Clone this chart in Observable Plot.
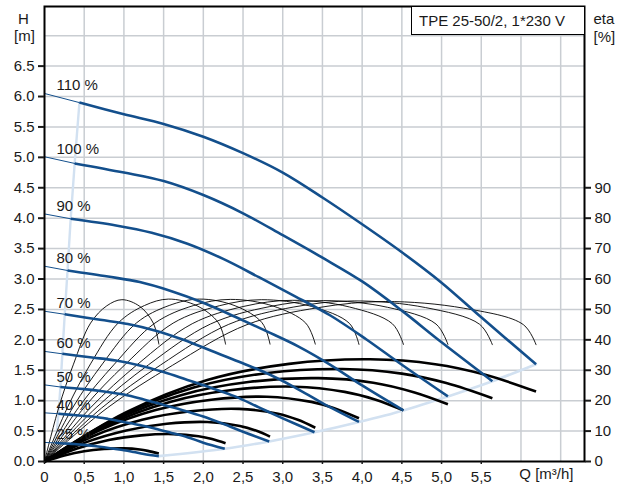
<!DOCTYPE html>
<html>
<head>
<meta charset="utf-8">
<script src="https://cdn.jsdelivr.net/npm/d3@7"></script>
<script src="https://cdn.jsdelivr.net/npm/@observablehq/plot@0.6"></script>
<style>
  body { margin: 0; background: #fff; font-family: "Liberation Sans", Arial, sans-serif; }
  #chart { position: relative; width: 624px; height: 489px; }
  #typebox {
    position: absolute; left: 411px; top: 6px; width: 173px; height: 29px;
    box-sizing: border-box; border: 1px solid #000; border-right: none; background: #fff;
    font-size: 15px; line-height: 27px; padding-left: 7px; color: #1a1a1a; white-space: nowrap;
  }
</style>
</head>
<body>
<div id="chart"><div id="typebox">TPE 25-50/2, 1*230 V</div></div>
<script>
// Speed steps of the pump, highest first
const speedLabels = ["110 %", "100 %", "90 %", "80 %", "70 %", "60 %", "50 %", "40 %", "25 %"];

// QH curves [Q m³/h, H m]; 2nd point = start of the operating range (thin line before it)
const head110 = [[0,6.05],[0.44,5.90],[1.0,5.71],[1.5,5.55],[2.0,5.34],[2.5,5.07],[3.0,4.75],[3.5,4.34],[4.0,3.90],[4.5,3.44],[5.0,2.94],[5.5,2.37],[6.19,1.60]];
const head100 = [[0,5.01],[0.38,4.90],[1.0,4.75],[1.5,4.61],[2.0,4.38],[2.5,4.08],[3.0,3.72],[3.5,3.35],[4.0,2.96],[4.5,2.48],[5.0,1.96],[5.64,1.32]];
const head90  = [[0,4.07],[0.33,3.99],[0.9,3.88],[1.35,3.76],[1.8,3.58],[2.25,3.33],[2.7,3.03],[3.15,2.72],[3.6,2.40],[4.05,2.01],[4.5,1.59],[5.08,1.07]];
const head80  = [[0,3.21],[0.29,3.14],[0.8,3.04],[1.2,2.95],[1.6,2.80],[2.0,2.61],[2.4,2.38],[2.8,2.14],[3.2,1.89],[3.6,1.59],[4.0,1.25],[4.52,0.84]];
const head70  = [[0,2.47],[0.255,2.42],[0.7,2.33],[1.05,2.26],[1.4,2.15],[1.75,2.00],[2.1,1.82],[2.45,1.64],[2.8,1.45],[3.15,1.22],[3.5,0.96],[3.96,0.65]];
const head60  = [[0,1.81],[0.225,1.77],[0.6,1.71],[0.9,1.66],[1.2,1.58],[1.5,1.47],[1.8,1.34],[2.1,1.21],[2.4,1.07],[2.7,0.89],[3.0,0.71],[3.40,0.48]];
const head50  = [[0,1.26],[0.2,1.225],[0.5,1.19],[0.75,1.15],[1.0,1.10],[1.25,1.02],[1.5,0.93],[1.75,0.84],[2.0,0.74],[2.25,0.62],[2.5,0.49],[2.83,0.33]];
const head40  = [[0,0.80],[0.175,0.785],[0.4,0.76],[0.6,0.74],[0.8,0.70],[1.0,0.65],[1.2,0.60],[1.4,0.54],[1.6,0.47],[1.8,0.40],[2.0,0.31],[2.27,0.21]];
const head25  = [[0,0.313],[0.14,0.306],[0.25,0.297],[0.375,0.288],[0.5,0.274],[0.625,0.255],[0.75,0.233],[0.875,0.209],[1.0,0.185],[1.125,0.155],[1.25,0.123],[1.44,0.088]];

// Hydraulic efficiency curves [Q m³/h, eta %] (thin)
const eff110 = [[0,0],[0.79,17.6],[1.61,31.6],[2.55,45.0],[3.45,50.6],[4.29,52.6],[5.28,50.4],[6.03,45.0],[6.19,38.4]];
const eff100 = [[0,0],[0.72,17.6],[1.46,31.7],[2.32,45.1],[3.14,50.8],[3.90,52.8],[4.80,50.6],[5.48,45.1],[5.64,38.4]];
const eff90  = [[0,0],[0.65,17.7],[1.31,31.8],[2.09,45.2],[2.83,50.9],[3.51,52.9],[4.32,50.7],[4.93,45.2],[5.08,38.5]];
const eff80  = [[0,0],[0.58,17.7],[1.17,31.9],[1.86,45.3],[2.51,51.0],[3.12,53.0],[3.84,50.8],[4.38,45.3],[4.52,38.5]];
const eff70  = [[0,0],[0.50,17.8],[1.02,32.0],[1.62,45.5],[2.20,51.2],[2.73,53.2],[3.36,51.0],[3.84,45.4],[3.96,38.5]];
const eff60  = [[0,0],[0.43,17.8],[0.88,32.0],[1.39,45.5],[1.88,51.3],[2.34,53.3],[2.88,51.1],[3.29,45.5],[3.41,38.6]];
const eff50  = [[0,0],[0.36,17.9],[0.73,32.1],[1.16,45.6],[1.57,51.3],[1.95,53.4],[2.40,51.2],[2.74,45.6],[2.84,38.6]];
const eff40  = [[0,0],[0.29,17.8],[0.58,32.1],[0.93,45.6],[1.26,51.3],[1.56,53.4],[1.92,51.2],[2.19,45.6],[2.28,38.6]];
const eff25  = [[0,0],[0.18,17.8],[0.365,32.0],[0.58,45.5],[0.785,51.2],[0.975,53.2],[1.20,51.0],[1.37,45.5],[1.44,38.6]];

// Total efficiency curves [Q m³/h, eta %] (thick)
const tot110 = [[0,0],[1.03,16.2],[2.05,26.8],[3.08,32.1],[4.1,33.6],[4.92,32.0],[5.54,28.6],[6.19,23.0]];
const tot100 = [[0,0],[0.94,14.7],[1.88,24.3],[2.81,29.1],[3.75,30.4],[4.5,28.9],[5.06,25.8],[5.64,20.8]];
const tot90  = [[0,0],[0.86,13.3],[1.73,21.9],[2.59,26.2],[3.45,27.4],[4.14,25.9],[4.66,22.7],[5.08,18.8]];
const tot80  = [[0,0],[0.79,11.9],[1.58,19.6],[2.36,23.5],[3.15,24.6],[3.78,22.9],[4.16,20.4],[4.52,16.8]];
const tot70  = [[0,0],[0.70,10.3],[1.40,16.9],[2.10,20.3],[2.80,21.3],[3.36,19.6],[3.64,17.6],[3.96,14.2]];
const tot60  = [[0,0],[0.61,8.3],[1.23,13.7],[1.84,16.5],[2.45,17.3],[2.94,15.7],[3.19,13.7],[3.41,11.1]];
const tot50  = [[0,0],[0.51,6.2],[1.03,10.2],[1.54,12.4],[2.05,13.0],[2.46,11.7],[2.67,10.1],[2.84,8.2]];
const tot40  = [[0,0],[0.41,4.3],[0.81,7.1],[1.22,8.6],[1.62,9.0],[1.94,8.3],[2.11,7.4],[2.28,6.0]];
const tot25  = [[0,0],[0.25,2.0],[0.5,3.4],[0.75,4.1],[1.0,4.3],[1.2,3.95],[1.3,3.5],[1.44,2.6]];

// Axis ticks
const qTicks = [0, 0.5, 1.0, 1.5, 2.0, 2.5, 3.0, 3.5, 4.0, 4.5, 5.0, 5.5];
const qGrid = [0.5, 1.0, 1.5, 2.0, 2.5, 3.0, 3.5, 4.0, 4.5, 5.0, 5.5, 6.0, 6.5];
const hTicks = [0, 0.5, 1.0, 1.5, 2.0, 2.5, 3.0, 3.5, 4.0, 4.5, 5.0, 5.5, 6.0, 6.5];
const hGrid = [0.5, 1.0, 1.5, 2.0, 2.5, 3.0, 3.5, 4.0, 4.5, 5.0, 5.5, 6.0, 6.5, 7.0];
const etaTicks = [0, 10, 20, 30, 40, 50, 60, 70, 80, 90];

// The eta axis on the right shares the frame: 10 % per 0.5 m
const ETA_PER_METRE = 20;

const headCurves = [head110, head100, head90, head80, head70, head60, head50, head40, head25];
const effCurves = [eff110, eff100, eff90, eff80, eff70, eff60, eff50, eff40, eff25];
const totCurves = [tot110, tot100, tot90, tot80, tot70, tot60, tot50, tot40, tot25];

const headRows = headCurves.flatMap((pts, i) =>
  pts.map(([q, h], j) => ({speed: speedLabels[i], q, h, j})));
const effRows = effCurves.flatMap((pts, i) =>
  pts.map(([q, e]) => ({speed: speedLabels[i], q, h: e / ETA_PER_METRE})));
const totRows = totCurves.flatMap((pts, i) =>
  pts.map(([q, e]) => ({speed: speedLabels[i], q, h: e / ETA_PER_METRE})));

// Operating range outline: minimum-flow points and end-of-curve points
const minFlowEdge = headCurves.map(pts => ({q: pts[1][0], h: pts[1][1]}));
const maxFlowEdge = headCurves.map(pts => ({q: pts[pts.length - 1][0], h: pts[pts.length - 1][1]})).reverse();

const blue = "#134f8c";
const font = "'Liberation Sans', Arial, sans-serif";
const commaFormat = d => d === 0 ? "0" : d.toFixed(1).replace(".", ",");

const chart = Plot.plot({
  width: 624,
  height: 489,
  marginLeft: 44,
  marginRight: 40,
  marginTop: 6,
  marginBottom: 28,
  x: {domain: [0, 6.8]},
  y: {domain: [0, 7.48]},
  style: {fontFamily: font, fontSize: "15px", color: "#1a1a1a", background: "white"},
  marks: [
    Plot.gridX(qGrid, {stroke: "#c9cdd2", strokeOpacity: 1, strokeWidth: 1.5}),
    Plot.gridY(hGrid, {stroke: "#c9cdd2", strokeOpacity: 1, strokeWidth: 1.5}),

    // operating range outline
    Plot.line(minFlowEdge, {x: "q", y: "h", curve: "catmull-rom", stroke: "#d2e1f1", strokeWidth: 2.4}),
    Plot.line(maxFlowEdge, {x: "q", y: "h", curve: "catmull-rom", stroke: "#d2e1f1", strokeWidth: 2.6}),

    // hydraulic efficiency
    Plot.line(effRows, {x: "q", y: "h", z: "speed", curve: "catmull-rom", stroke: "#000", strokeWidth: 0.9}),
    // total efficiency
    Plot.line(totRows, {x: "q", y: "h", z: "speed", curve: "catmull-rom", stroke: "#000", strokeWidth: 2.6, strokeLinecap: "butt"}),

    // QH curves: thin up to minimum flow, thick across the operating range
    Plot.line(headRows.filter(d => d.j <= 1), {x: "q", y: "h", z: "speed", stroke: blue, strokeWidth: 1}),
    Plot.line(headRows.filter(d => d.j >= 1), {x: "q", y: "h", z: "speed", curve: "catmull-rom", stroke: blue, strokeWidth: 2.6, strokeLinecap: "butt"}),

    Plot.text(speedLabels, {frameAnchor: "left", y: (d, i) => headCurves[i][0][1], dx: 12, dy: -8,
      textAnchor: "start", fontSize: 15, fill: "#1a1a1a"}),

    Plot.frame({stroke: "#000", strokeWidth: 2}),

    Plot.axisY(hTicks, {anchor: "left", tickSize: 6, tickPadding: 4, strokeWidth: 2,
      tickFormat: d3.format(".1f"), fontSize: 15, label: null}),
    Plot.axisY(etaTicks.map(e => e / ETA_PER_METRE), {anchor: "right", tickSize: 6, tickPadding: 4, strokeWidth: 2,
      tickFormat: d => String(Math.round(d * ETA_PER_METRE)), fontSize: 15, label: null}),
    Plot.axisX(qTicks, {anchor: "bottom", tickSize: 3, tickPadding: 7, strokeWidth: 1.5,
      tickFormat: commaFormat, fontSize: 15, label: null}),

    Plot.text(["Q [m³/h]"], {frameAnchor: "bottom-right", dx: -11, dy: 17, textAnchor: "end", fontSize: 15}),
    Plot.text(["H"], {frameAnchor: "top-left", dx: -21, dy: 7, textAnchor: "middle", fontSize: 15}),
    Plot.text(["[m]"], {frameAnchor: "top-left", dx: -20, dy: 24, textAnchor: "middle", fontSize: 15}),
    Plot.text(["eta"], {frameAnchor: "top-right", dx: 9, dy: 7, textAnchor: "start", fontSize: 15}),
    Plot.text(["[%]"], {frameAnchor: "top-right", dx: 9, dy: 25, textAnchor: "start", fontSize: 15})
  ]
});

document.getElementById("chart").prepend(chart);
</script>
</body>
</html>
